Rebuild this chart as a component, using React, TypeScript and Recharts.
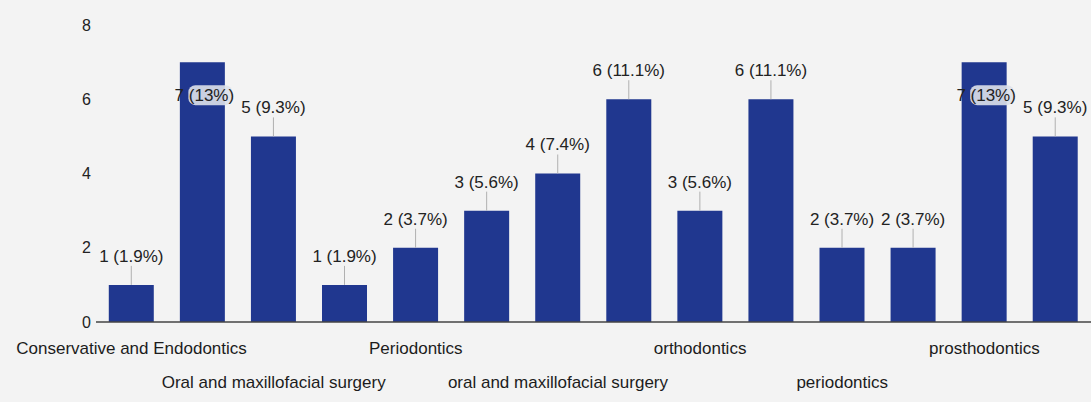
import { BarChart, Bar, XAxis, YAxis, LabelList } from 'recharts';

// 14 specialties, only every other one gets a printed tick label
const categories = [
  'Conservative and Endodontics',
  'Endodontics',
  'Oral and maxillofacial surgery',
  'Orthodontics',
  'Periodontics',
  'Prosthodontics',
  'oral and maxillofacial surgery',
  'oral medicine',
  'orthodontics',
  'pedodontics',
  'periodontics',
  'preventive dentistry',
  'prosthodontics',
  'radiology',
];
const counts = [1, 7, 5, 1, 2, 3, 4, 6, 3, 6, 2, 2, 7, 5];
const percents = ['1.9%', '13%', '9.3%', '1.9%', '3.7%', '5.6%', '7.4%', '11.1%', '5.6%', '11.1%', '3.7%', '3.7%', '13%', '9.3%'];
const yTicks = [0, 2, 4, 6, 8];

const data = categories.map((name, i) => ({
  name,
  count: counts[i],
  label: `${counts[i]} (${percents[i]})`,
}));

const FONT = 'Liberation Sans, Arial, sans-serif';
const BAR = '#20378f';

function XTick(props: any) {
  const { x, y, payload, index } = props;
  if (index % 2 !== 0) return null;
  const row = (index / 2) % 2;
  return (
    <text
      x={x}
      y={y + (row === 0 ? 26 : 60)}
      dy="0.35em"
      textAnchor="middle"
      fontFamily={FONT}
      fontSize={17}
      fill="#1c1c1c"
    >
      {payload.value}
    </text>
  );
}

function BarLabel(props: any) {
  const { x, y, width, value } = props;
  const cx = x + width / 2;
  if (y < 80) {
    // label collides with the top, printed over the bar
    return (
      <g>
        <rect x={cx - 14} y={y + 23} width={44} height={20} rx={7} fill="#dde1ea" opacity={0.9} />
        <text x={cx + 2} y={y + 33} dy="0.35em" textAnchor="middle" fontFamily={FONT} fontSize={17} fill="#222">
          {value}
        </text>
      </g>
    );
  }
  return (
    <g>
      <line x1={cx} y1={y - 19} x2={cx} y2={y} stroke="#b0b0b0" strokeWidth={1} />
      <text x={cx} y={y - 29} dy="0.35em" textAnchor="middle" fontFamily={FONT} fontSize={17} fill="#222">
        {value}
      </text>
    </g>
  );
}

export default function App() {
  return (
    <div style={{ position: 'fixed', left: 0, top: 0, width: 1091, height: 402, background: '#f3f3f3', overflow: 'hidden' }}>
      <BarChart
        width={1091}
        height={402}
        data={data}
        margin={{ top: 25, right: 0, bottom: 0, left: 0 }}
        barCategoryGap="18%"
      >
        <XAxis
          dataKey="name"
          interval={0}
          height={80}
          tickLine={false}
          tickSize={0}
          tickMargin={0}
          axisLine={{ stroke: '#444', strokeWidth: 1.5 }}
          tick={<XTick />}
        />
        <YAxis
          width={96}
          domain={[0, 8]}
          ticks={yTicks}
          axisLine={false}
          tickLine={false}
          tickSize={0}
          tickMargin={5}
          tick={{ fontFamily: FONT, fontSize: 16, fill: '#222' }}
        />
        <Bar dataKey="count" fill={BAR} isAnimationActive={false}>
          <LabelList dataKey="label" content={<BarLabel />} />
        </Bar>
      </BarChart>
    </div>
  );
}
